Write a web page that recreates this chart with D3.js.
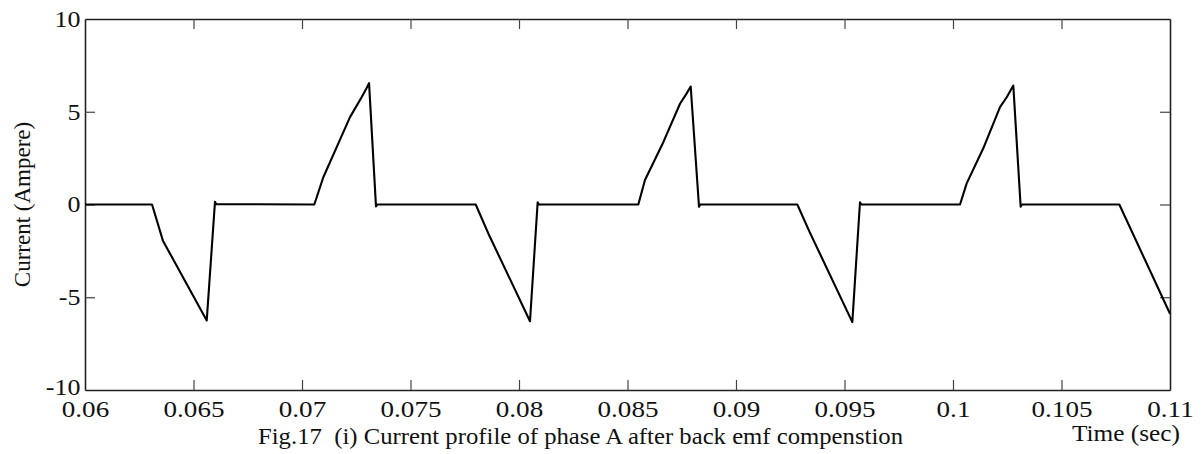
<!DOCTYPE html>
<html>
<head>
<meta charset="utf-8">
<script src="https://cdn.jsdelivr.net/npm/d3@7"></script>
<style>
  html, body { margin: 0; padding: 0; background: #fff; }
  svg { display: block; }
  text { font-family: "Liberation Serif", "Times New Roman", serif; fill: #111; }
</style>
</head>
<body>
<script>
// ---- data ----
const timeSec = [
  0.0600, 0.06309, 0.06359, 0.06561, 0.06599, 0.06605,
  0.070567, 0.070982, 0.071599, 0.072212, 0.072747, 0.072935, 0.07309, 0.07341, 0.07347,
  0.078005, 0.078585, 0.080507, 0.08086, 0.08092,
  0.085498, 0.085806, 0.08665, 0.087419, 0.087728, 0.087912, 0.088295, 0.08835,
  0.092826, 0.093400, 0.095361, 0.095714, 0.09578,
  0.100323, 0.100631, 0.101396, 0.102166, 0.102475, 0.102779, 0.103118, 0.10318,
  0.107665, 0.1100
];
const currentA = [
  0, 0, -1.95, -6.25, 0.15, 0.02,
  0, 1.47, 3.09, 4.71, 5.78, 6.18, 6.54, -0.10, 0,
  0, -1.56, -6.29, 0.12, 0,
  0, 1.32, 3.36, 5.43, 5.99, 6.36, -0.12, 0,
  0, -1.50, -6.34, 0.12, 0,
  0, 1.14, 3.03, 5.25, 5.78, 6.41, -0.12, 0,
  0, -5.89
];
const xTicks = [0.06, 0.065, 0.07, 0.075, 0.08, 0.085, 0.09, 0.095, 0.1, 0.105, 0.11];
const xTickLabels = ["0.06", "0.065", "0.07", "0.075", "0.08", "0.085", "0.09", "0.095", "0.1", "0.105", "0.11"];
const yTicks = [-10, -5, 0, 5, 10];
const yTickLabels = ["-10", "-5", "0", "5", "10"];
const yLabel = "Current (Ampere)";
const xLabel = "Time (sec)";
const caption = "Fig.17  (i) Current profile of phase A after back emf compenstion";

// ---- layout ----
const W = 1201, H = 454;
const L = 85, R = 1170, T = 19, B = 390;
const stretch = 1.13;

const svg = d3.select("body").append("svg").attr("width", W).attr("height", H);

const x = d3.scaleLinear().domain([0.06, 0.11]).range([L, R]);
const y = d3.scaleLinear().domain([-10, 10]).range([B, T]);

const tickLen = 10;
const fmtX = d => xTickLabels[xTicks.indexOf(d)];
const fmtY = d => yTickLabels[yTicks.indexOf(d)];

// bottom axis (inward ticks)
const gB = svg.append("g").attr("transform", `translate(0,${B})`)
  .call(d3.axisBottom(x).tickValues(xTicks).tickFormat(fmtX).tickSizeInner(-tickLen).tickSizeOuter(0).tickPadding(10));
gB.selectAll("text").attr("font-size", 24).attr("font-family", "Liberation Serif").attr("fill", "#111")
  .attr("transform", `scale(${stretch},1)`);
// top axis
const gT = svg.append("g").attr("transform", `translate(0,${T})`)
  .call(d3.axisTop(x).tickValues(xTicks).tickFormat("").tickSizeInner(-tickLen).tickSizeOuter(0));
// left axis
const gL = svg.append("g").attr("transform", `translate(${L},0)`)
  .call(d3.axisLeft(y).tickValues(yTicks).tickFormat(fmtY).tickSizeInner(-tickLen).tickSizeOuter(0).tickPadding(4));
gL.selectAll("text").attr("font-size", 23).attr("font-family", "Liberation Serif").attr("fill", "#111")
  .attr("transform", `scale(${stretch},1)`);
gL.selectAll(".tick").filter(d => d === -10).select("text").attr("dy", "0.2em");
// right axis
const gR = svg.append("g").attr("transform", `translate(${R},0)`)
  .call(d3.axisRight(y).tickValues(yTicks).tickFormat("").tickSizeInner(-tickLen).tickSizeOuter(0));

[gB, gT, gL, gR].forEach(g => {
  g.select(".domain").attr("stroke", "#222").attr("stroke-width", 1.6);
  g.selectAll(".tick line").attr("stroke", "#444").attr("stroke-width", 1.2);
});
// end ticks coincide with the frame
gB.selectAll(".tick line").filter(d => d === 0.06 || d === 0.11).remove();
gT.selectAll(".tick line").filter(d => d === 0.06 || d === 0.11).remove();
gL.selectAll(".tick line").filter(d => d === -10 || d === 10).remove();
gR.selectAll(".tick line").filter(d => d === -10 || d === 10).remove();

// data line
const pts = timeSec.map((t, i) => [t, currentA[i]]);
svg.append("path")
  .datum(pts)
  .attr("fill", "none")
  .attr("stroke", "#000")
  .attr("stroke-width", 2.1)
  .attr("stroke-linejoin", "round")
  .attr("d", d3.line().x(d => x(d[0])).y(d => y(d[1])));

// y label
svg.append("text")
  .attr("transform", `translate(30,${(T + B) / 2}) rotate(-90)`)
  .attr("text-anchor", "middle")
  .attr("font-size", 23)
  .text(yLabel);

// x label
svg.append("text")
  .attr("x", 1072).attr("y", 441)
  .attr("font-size", 23)
  .attr("textLength", 108)
  .attr("lengthAdjust", "spacingAndGlyphs")
  .text(xLabel);

// caption
svg.append("text")
  .attr("x", 258).attr("y", 444)
  .attr("font-size", 23)
  .attr("textLength", 645)
  .attr("lengthAdjust", "spacingAndGlyphs")
  .style("white-space", "pre")
  .text(caption);
</script>
</body>
</html>
